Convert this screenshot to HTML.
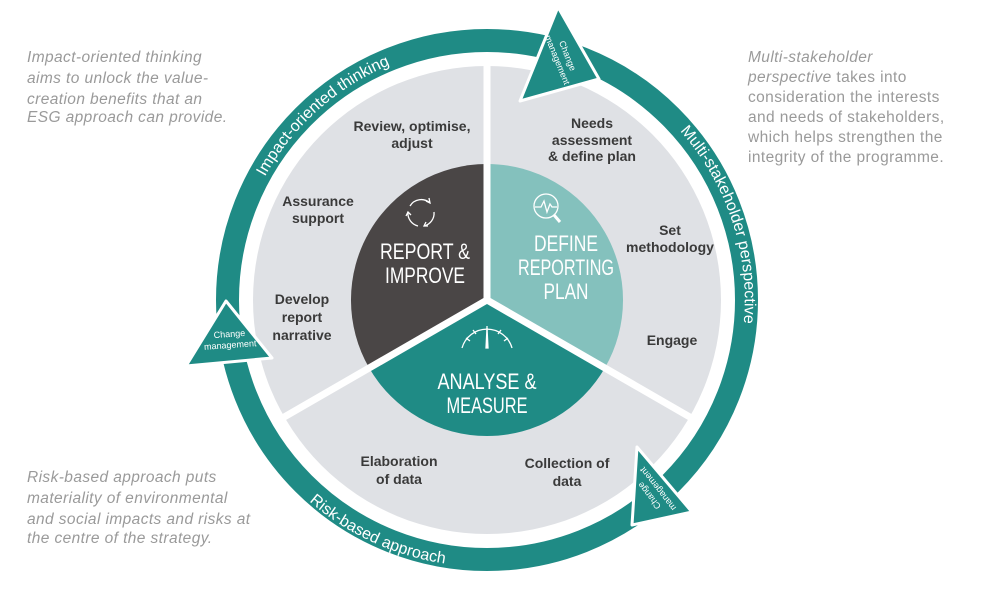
<!DOCTYPE html>
<html><head><meta charset="utf-8"><style>
html,body{margin:0;padding:0;background:#fff;width:981px;height:593px;overflow:hidden}
svg{display:block}
.side{font-family:"Liberation Sans",sans-serif;font-size:15.5px;fill:#9a9a9a;letter-spacing:0.4px}
.seg{font-family:"Liberation Sans",sans-serif;font-size:14px;font-weight:bold;fill:#3a3a3a;text-anchor:middle}
.ctr{font-family:"Liberation Sans",sans-serif;font-size:22px;fill:#fff;text-anchor:middle}
.ring{font-family:"Liberation Sans",sans-serif;font-size:16px;fill:#fff}
.cm{font-family:"Liberation Sans",sans-serif;font-size:9px;fill:#fff;text-anchor:middle}
</style></head><body>
<svg width="981" height="593" viewBox="0 0 981 593" xmlns="http://www.w3.org/2000/svg">
<defs>
<path id="p1" d="M 256.8 192.7 A 254 254 0 0 1 460 47"/>
<path id="p2" d="M 680 131 A 254 254 0 0 1 735 370"/>
<path id="p3" d="M 296 489 A 266 266 0 0 0 470 566"/>
</defs>
<circle cx="487" cy="300" r="259.5" fill="none" stroke="#1f8b85" stroke-width="23"/>
<circle cx="487" cy="300" r="234" fill="#dfe1e5"/>
<path d="M487 300 L487 164 A136 136 0 0 0 369.2 368 Z" fill="#4a4646"/>
<path d="M487 300 L487 164 A136 136 0 0 1 604.8 368 Z" fill="#84c1bd"/>
<path d="M487 300 L604.8 368 A136 136 0 0 1 369.2 368 Z" fill="#1f8b85"/>
<line x1="487" y1="300" x2="487" y2="60" stroke="#fff" stroke-width="7"/>
<line x1="487" y1="300" x2="279" y2="420" stroke="#fff" stroke-width="7"/>
<line x1="487" y1="300" x2="695" y2="420" stroke="#fff" stroke-width="7"/>
<polygon points="558,7 599,79 520,101" fill="#1f8b85" stroke="#fff" stroke-width="3" stroke-linejoin="round"/>
<polygon points="226,301 272,358 186,366" fill="#1f8b85" stroke="#fff" stroke-width="3" stroke-linejoin="round"/>
<polygon points="637,447 692,512 632,525" fill="#1f8b85" stroke="#fff" stroke-width="3" stroke-linejoin="round"/>
<text class="cm" transform="translate(562,58) rotate(68)"><tspan x="0" y="-3">Change</tspan><tspan x="0" y="8">management</tspan></text>
<text class="cm" transform="translate(230,342) rotate(-4)"><tspan x="0" y="-5">Change</tspan><tspan x="0" y="6">management</tspan></text>
<text class="cm" transform="translate(654,492) rotate(-128)"><tspan x="0" y="-3">Change</tspan><tspan x="0" y="8">management</tspan></text>
<text class="ring"><textPath href="#p1" startOffset="18">Impact-oriented thinking</textPath></text>
<text class="ring"><textPath href="#p2">Multi-stakeholder perspective</textPath></text>
<text class="ring"><textPath href="#p3" startOffset="18">Risk-based approach</textPath></text>
<g fill="none" stroke="#fff" stroke-width="1.3">
<path d="M410 206 A13 13 0 0 1 430 203"/><path d="M426 201 L430 203 L429 198"/>
<path d="M434 212 A13 13 0 0 1 424 226"/><path d="M428 226 L424 226 L426 222"/>
<path d="M418 226 A13 13 0 0 1 408 212"/><path d="M406 216 L408 212 L411 215"/>
<circle cx="546" cy="206" r="12"/><path d="M535 207 L541 207 L544 201 L547 212 L550 204 L552 207 L557 207"/>
<path d="M554 215 L560 222" stroke-width="3"/>
<path d="M462 348 A26 26 0 0 1 512 348"/>
<path d="M466 338 L470 341 M473 330 L476 334 M487 326 L487 331 M501 330 L498 334 M508 338 L504 341"/>
<path d="M486 348 L487 328 L488 348 Z" fill="#fff"/>
</g>
<text class="ctr" x="425" y="259" textLength="90" lengthAdjust="spacingAndGlyphs">REPORT &amp;</text>
<text class="ctr" x="425" y="283" textLength="80" lengthAdjust="spacingAndGlyphs">IMPROVE</text>
<text class="ctr" x="566" y="251" textLength="64" lengthAdjust="spacingAndGlyphs">DEFINE</text>
<text class="ctr" x="566" y="275" textLength="96" lengthAdjust="spacingAndGlyphs">REPORTING</text>
<text class="ctr" x="566" y="299" textLength="45" lengthAdjust="spacingAndGlyphs">PLAN</text>
<text class="ctr" x="487" y="389" textLength="99" lengthAdjust="spacingAndGlyphs">ANALYSE &amp;</text>
<text class="ctr" x="487" y="413" textLength="81" lengthAdjust="spacingAndGlyphs">MEASURE</text>
<text class="seg"><tspan x="412" y="131">Review, optimise,</tspan><tspan x="412" y="148">adjust</tspan></text>
<text class="seg"><tspan x="318" y="206">Assurance</tspan><tspan x="318" y="223">support</tspan></text>
<text class="seg"><tspan x="302" y="304">Develop</tspan><tspan x="302" y="322">report</tspan><tspan x="302" y="340">narrative</tspan></text>
<text class="seg"><tspan x="592" y="128">Needs</tspan><tspan x="592" y="145">assessment</tspan><tspan x="592" y="161">&amp; define plan</tspan></text>
<text class="seg"><tspan x="670" y="235">Set</tspan><tspan x="670" y="252">methodology</tspan></text>
<text class="seg"><tspan x="672" y="345">Engage</tspan></text>
<text class="seg"><tspan x="399" y="466">Elaboration</tspan><tspan x="399" y="484">of data</tspan></text>
<text class="seg"><tspan x="567" y="468">Collection of</tspan><tspan x="567" y="486">data</tspan></text>
<text class="side" font-style="italic"><tspan x="27" y="62">Impact-oriented thinking</tspan><tspan x="27" y="83">aims to unlock the value-</tspan><tspan x="27" y="104">creation benefits that an</tspan><tspan x="27" y="122">ESG approach can provide.</tspan></text>
<text class="side"><tspan x="748" y="62" font-style="italic">Multi-stakeholder</tspan><tspan x="748" y="82"><tspan font-style="italic">perspective</tspan> takes into</tspan><tspan x="748" y="102">consideration the interests</tspan><tspan x="748" y="122">and needs of stakeholders,</tspan><tspan x="748" y="142">which helps strengthen the</tspan><tspan x="748" y="162">integrity of the programme.</tspan></text>
<text class="side" font-style="italic"><tspan x="27" y="482">Risk-based approach puts</tspan><tspan x="27" y="503">materiality of environmental</tspan><tspan x="27" y="524">and social impacts and risks at</tspan><tspan x="27" y="543">the centre of the strategy.</tspan></text>
</svg>
</body></html>
